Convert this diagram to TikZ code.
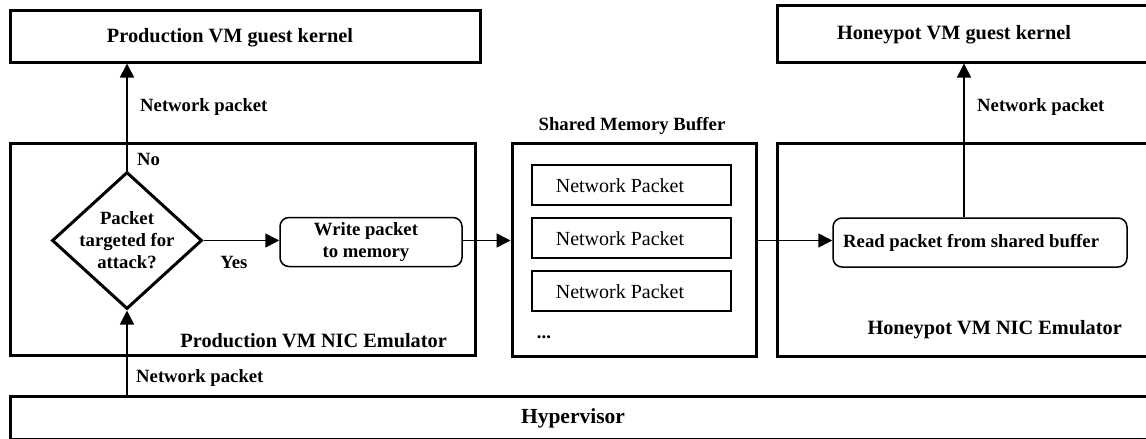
\documentclass[tikz,border=0pt]{standalone}
\usepackage{fontspec}
\setmainfont{Liberation Serif}
\usetikzlibrary{shapes.geometric,arrows.meta}
\begin{document}
\begin{tikzpicture}[x=1pt,y=-1pt,
  bigbox/.style={draw,line width=3pt,rectangle,inner sep=0pt},
  pktbox/.style={draw,line width=1.4pt,rectangle,inner sep=0pt,minimum width=199pt,minimum height=40pt},
  rbox/.style={draw,line width=1.5pt,rectangle,rounded corners=9pt,inner sep=0pt},
  lbl/.style={font=\fontsize{18.7}{22}\selectfont\bfseries,inner sep=0pt,align=center},
  ttl/.style={font=\fontsize{20.3}{23}\selectfont\bfseries,inner sep=0pt},
  rlbl/.style={font=\fontsize{20}{23}\selectfont,inner sep=0pt},
  conn/.style={line width=1.6pt,-{Triangle[length=14pt,width=14pt]}}]
\path[use as bounding box] (0,0) rectangle (1146,439);
\clip (0,0) rectangle (1146,439);
% boxes
\node[bigbox,minimum width=470pt,minimum height=52pt] (pk) at (245,36) {};
\node[ttl] (pkt) at (230,38) {Production VM guest kernel};
\node[bigbox,minimum width=383pt,minimum height=57pt] (hk) at (968.5,33.5) {};
\node[ttl] (hkt) at (954,35) {Honeypot VM guest kernel};
\node[bigbox,minimum width=465pt,minimum height=212pt] (pn) at (242.5,249) {};
\node[ttl,anchor=base east] (pnt) at (447,347) {Production VM NIC Emulator};
\node[bigbox,minimum width=244pt,minimum height=213pt] (sm) at (634,249.5) {};
\node[lbl,anchor=base] (smt) at (632,130) {Shared Memory Buffer};
\node[bigbox,minimum width=383pt,minimum height=213pt] (hn) at (968.5,249.5) {};
\node[ttl,anchor=base east] (hnt) at (1122,334) {Honeypot VM NIC Emulator};
\node[bigbox,minimum width=1160pt,minimum height=43pt] (hv) at (590,417.5) {};
\node[ttl,font=\fontsize{21.5}{24}\selectfont\bfseries] (hvt) at (573,418) {Hypervisor};
% packets
\node[pktbox] (p1) at (631.5,185) {};
\node[pktbox] (p2) at (631.5,238) {};
\node[pktbox] (p3) at (631.5,291) {};
\node[rlbl] at (620,186) {Network Packet};
\node[rlbl] at (620,239) {Network Packet};
\node[rlbl] at (620,292) {Network Packet};
\node[lbl] (dots) at (544,337) {...};
% flow
\node[draw,diamond,line width=3pt,minimum width=150pt,minimum height=137pt,inner sep=0pt] (dec) at (127,240.5) {};
\node[lbl] (dect) at (127,240) {Packet\\targeted for\\attack?};
\node[rbox,minimum width=182pt,minimum height=49pt] (wr) at (371,242) {};
\node[lbl] (wrt) at (366,242) {Write packet\\to memory};
\node[rbox,minimum width=294pt,minimum height=49pt] (rd) at (980,242.5) {};
\node[lbl,anchor=west] (rdt) at (843,243) {Read packet from shared buffer};
% connectors
\draw[conn] (dec.north) -- (pk.south -| dec.north);
\draw[conn] (hv.north -| dec.south) -- (dec.south);
\draw[conn] (dec.east) -- (dec.east -| wr.west);
\draw[conn] (wr.east |- dec.east) -- (sm.west |- dec.east);
\draw[conn] (sm.east |- dec.east) -- (rd.west |- dec.east);
\draw[conn] (rd.north -| 964,0) -- (hk.south -| 964,0);
% labels
\node[lbl,anchor=west] (l1) at (140,107) {Network packet};
\node[lbl,anchor=west] (l2) at (137,159) {No};
\node[lbl] (l3) at (234,262) {Yes};
\node[lbl,anchor=west] (l4) at (136,378) {Network packet};
\node[lbl,anchor=west] (l5) at (977,107) {Network packet};
\end{tikzpicture}
\end{document}
